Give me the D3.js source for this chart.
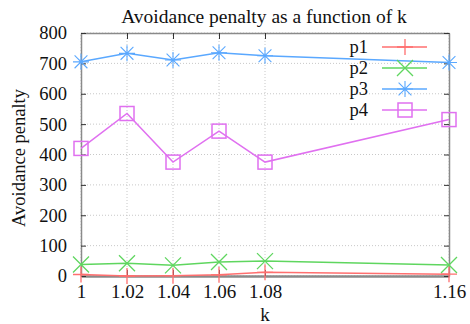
<!DOCTYPE html>
<html><head><meta charset="utf-8">
<script src="https://cdn.jsdelivr.net/npm/d3@7"></script>
<style>body{margin:0;background:#fff}svg{display:block}text{font-family:"Liberation Serif","Times New Roman",serif;fill:#111}</style>
</head><body>
<script>
const kValues = [1, 1.02, 1.04, 1.06, 1.08, 1.16];
const p1 = [5, 0, 1, 4, 12, 6];
const p2 = [38, 42, 35, 46, 49, 36];
const p3 = [705, 733, 711, 735, 725, 703];
const p4 = [420, 535, 375, 477, 375, 515];
const seriesNames = ["p1", "p2", "p3", "p4"];
const seriesColors = ["#ff6f6f", "#5fd65f", "#5aa8ff", "#e070f0"];
const seriesMarkers = ["plus", "cross", "star", "square"];
const yTicks = [0, 100, 200, 300, 400, 500, 600, 700, 800];
const xTickLabels = ["1", "1.02", "1.04", "1.06", "1.08", "1.16"];

const W = 470, H = 324;
const m = {left: 81, right: 21, top: 33, bottom: 48};
const svg = d3.select("body").append("svg").attr("width", W).attr("height", H);
const x = d3.scaleLinear().domain([1, 1.16]).range([m.left, W - m.right]);
const y = d3.scaleLinear().domain([0, 800]).range([H - m.bottom, m.top]);

// grid
const g = svg.append("g");
g.selectAll(".gx").data(kValues).enter().append("line")
  .attr("x1", d => x(d)).attr("x2", d => x(d)).attr("y1", y(0)).attr("y2", y(800))
  .attr("stroke", "#c8c8c8").attr("stroke-dasharray", "1,2");
g.selectAll(".gy").data(yTicks).enter().append("line")
  .attr("x1", x(1)).attr("x2", x(1.16)).attr("y1", d => y(d)).attr("y2", d => y(d))
  .attr("stroke", "#c8c8c8").attr("stroke-dasharray", "1,2");

// axes
const fmtX = d => xTickLabels[kValues.indexOf(d)];
const axB = svg.append("g").attr("transform", `translate(0,${y(0)})`)
  .call(d3.axisBottom(x).tickValues(kValues).tickFormat(fmtX).tickSizeInner(-6).tickSizeOuter(0).tickPadding(9));
const axT = svg.append("g").attr("transform", `translate(0,${y(800)})`)
  .call(d3.axisTop(x).tickValues(kValues).tickFormat("").tickSizeInner(-6).tickSizeOuter(0));
const axL = svg.append("g").attr("transform", `translate(${x(1)},0)`)
  .call(d3.axisLeft(y).tickValues(yTicks).tickSizeInner(-5).tickSizeOuter(0).tickPadding(14));
const axR = svg.append("g").attr("transform", `translate(${x(1.16)},0)`)
  .call(d3.axisRight(y).tickValues(yTicks).tickFormat("").tickSizeInner(-5).tickSizeOuter(0));
[axB, axT, axL, axR].forEach(a => {
  a.select(".domain").attr("stroke", "#8a8a8a").attr("stroke-width", 1.5);
  a.selectAll(".tick line").attr("stroke", "#333");
  a.selectAll("text").attr("font-family", "Liberation Serif, serif").attr("font-size", 19).attr("fill", "#111");
});
axL.selectAll("text").attr("font-size", 18.5);
axB.select(".domain").attr("stroke-width", 2.5);

// titles
svg.append("text").attr("x", 264).attr("y", 23).attr("text-anchor", "middle").attr("font-size", 19.5).text("Avoidance penalty as a function of k");
svg.append("text").attr("x", x(1.08)).attr("y", 321).attr("text-anchor", "middle").attr("font-size", 19).text("k");
svg.append("text").attr("transform", `translate(25,${158}) rotate(-90)`).attr("text-anchor", "middle").attr("font-size", 18.5).text("Avoidance penalty");

function marker(sel, type, color, cx, cy) {
  const s = 8;
  if (type === "plus") {
    sel.append("path").attr("d", `M${cx-s},${cy}H${cx+s}M${cx},${cy-s}V${cy+s}`).attr("stroke", color).attr("stroke-width", 1.3).attr("fill", "none");
  } else if (type === "cross") {
    sel.append("path").attr("d", `M${cx-s},${cy-s}L${cx+s},${cy+s}M${cx-s},${cy+s}L${cx+s},${cy-s}`).attr("stroke", color).attr("stroke-width", 1.3).attr("fill", "none");
  } else if (type === "star") {
    sel.append("path").attr("d", `M${cx-s},${cy}H${cx+s}M${cx},${cy-s}V${cy+s}M${cx-s*0.8},${cy-s*0.8}L${cx+s*0.8},${cy+s*0.8}M${cx-s*0.8},${cy+s*0.8}L${cx+s*0.8},${cy-s*0.8}`).attr("stroke", color).attr("stroke-width", 1.1).attr("fill", "none");
  } else {
    sel.append("rect").attr("x", cx-7).attr("y", cy-7).attr("width", 14).attr("height", 14).attr("stroke", color).attr("stroke-width", 1.5).attr("fill", "none");
  }
}

const allSeries = [p1, p2, p3, p4];
const line = d3.line().x((d, i) => x(kValues[i])).y(d => y(d));
allSeries.forEach((vals, si) => {
  const gs = svg.append("g");
  gs.append("path").datum(vals).attr("d", line).attr("fill", "none").attr("stroke", seriesColors[si]).attr("stroke-width", 1.5);
  vals.forEach((v, i) => marker(gs, seriesMarkers[si], seriesColors[si], x(kValues[i]), y(v)));
});

// legend
const legY = [47, 68, 89, 110];
seriesNames.forEach((n, i) => {
  const lg = svg.append("g");
  lg.append("text").attr("x", 368).attr("y", legY[i]).attr("dy", "0.35em").attr("text-anchor", "end").attr("font-size", 18.5).text(n);
  lg.append("line").attr("x1", 382).attr("x2", 427).attr("y1", legY[i]).attr("y2", legY[i]).attr("stroke", seriesColors[i]).attr("stroke-width", 1.5);
  marker(lg, seriesMarkers[i], seriesColors[i], 405, legY[i]);
});
</script>
</body></html>
